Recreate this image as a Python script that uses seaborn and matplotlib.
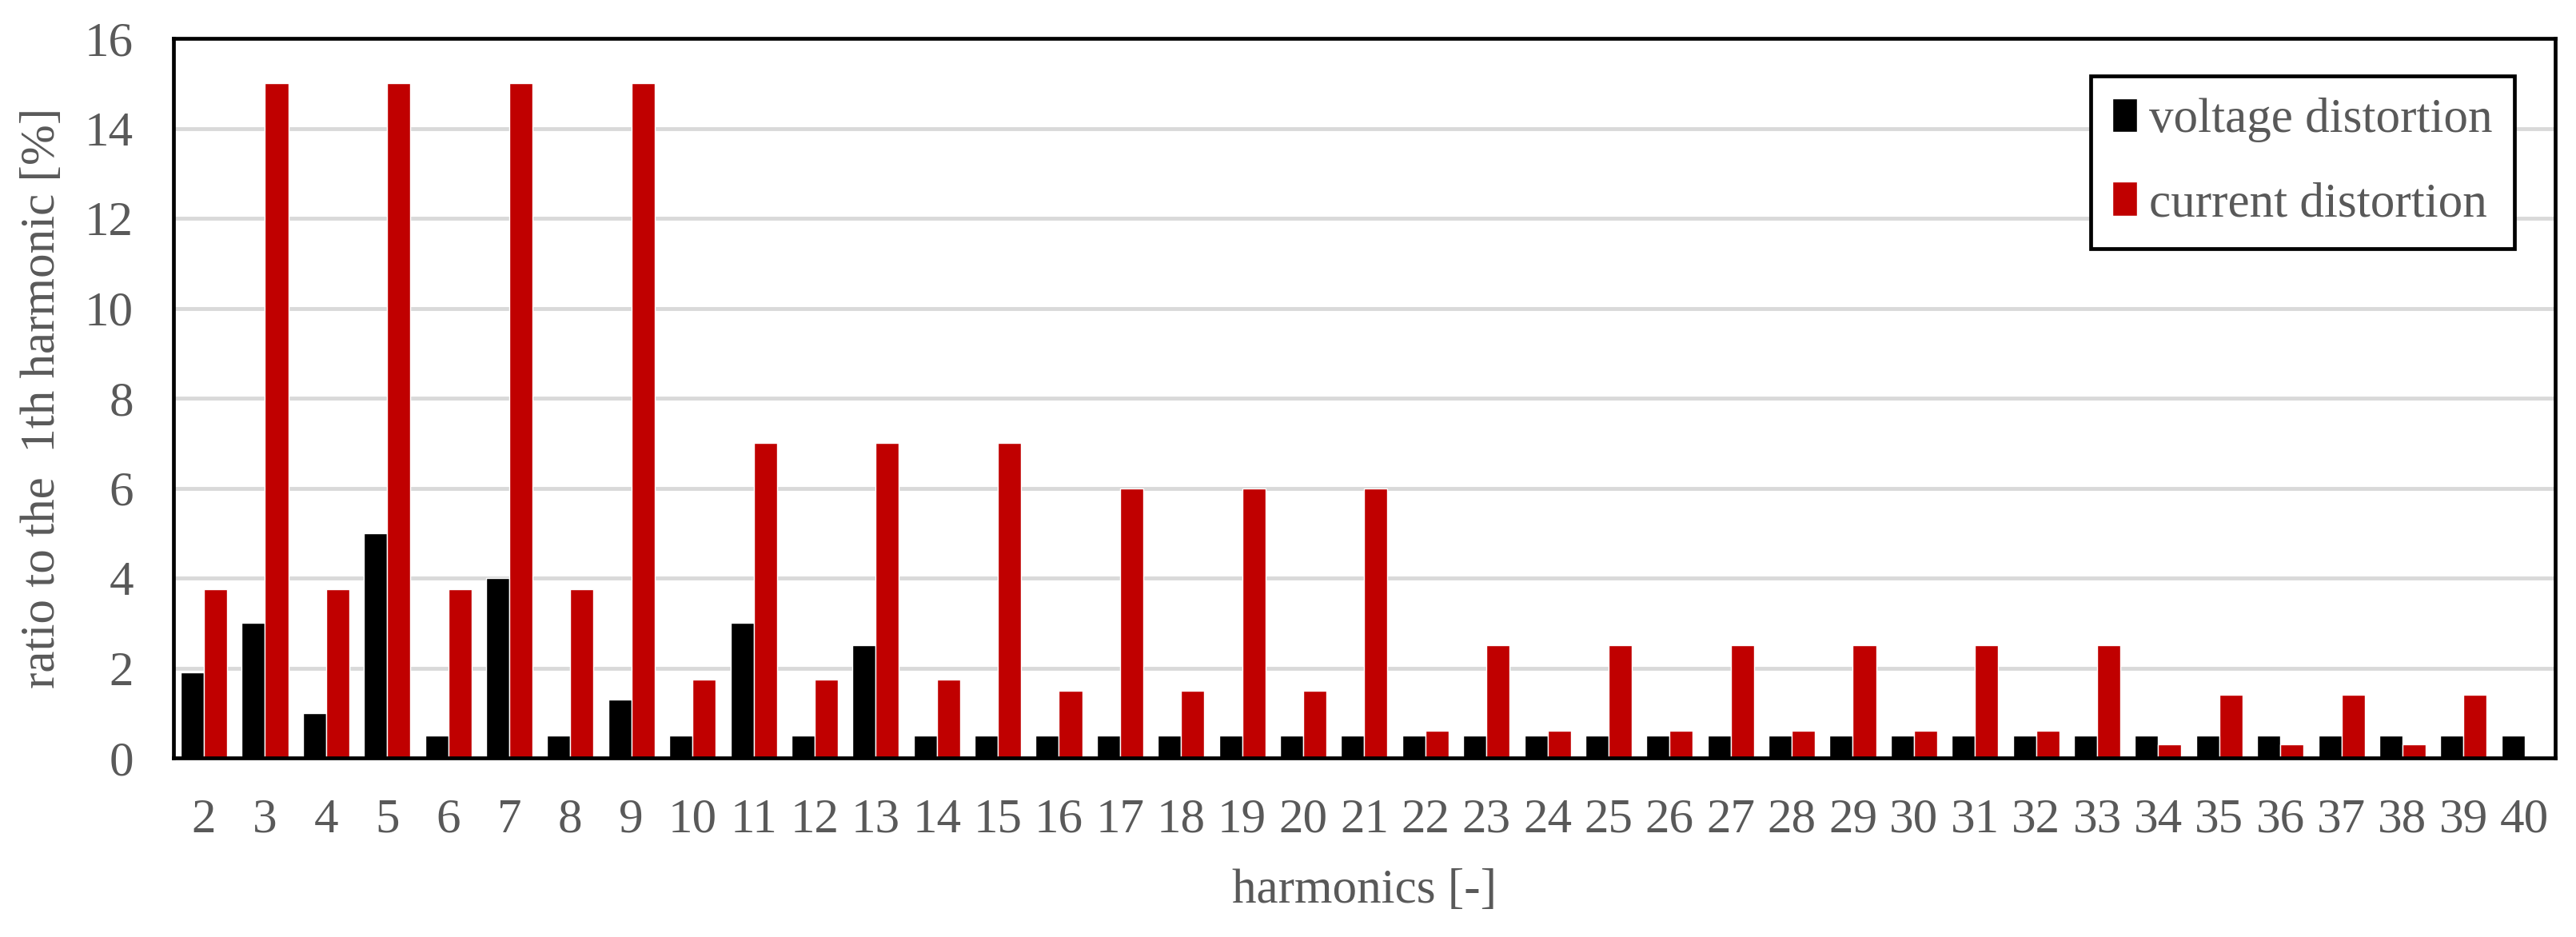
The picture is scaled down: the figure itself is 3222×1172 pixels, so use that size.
import matplotlib
matplotlib.use('Agg')
import matplotlib.pyplot as plt
import pandas as pd
import seaborn as sns

# harmonic orders 2..40
harmonics = list(range(2, 41))

# ratio to the fundamental [%]
voltage = [1.9, 3.0, 1.0, 5.0, 0.5, 4.0, 0.5, 1.3, 0.5, 3.0,
           0.5, 2.5, 0.5, 0.5, 0.5, 0.5, 0.5, 0.5, 0.5, 0.5,
           0.5, 0.5, 0.5, 0.5, 0.5, 0.5, 0.5, 0.5, 0.5, 0.5,
           0.5, 0.5, 0.5, 0.5, 0.5, 0.5, 0.5, 0.5, 0.5]
current = [3.75, 15.0, 3.75, 15.0, 3.75, 15.0, 3.75, 15.0, 1.75, 7.0,
           1.75, 7.0, 1.75, 7.0, 1.5, 6.0, 1.5, 6.0, 1.5, 6.0,
           0.6, 2.5, 0.6, 2.5, 0.6, 2.5, 0.6, 2.5, 0.6, 2.5,
           0.6, 2.5, 0.3, 1.4, 0.3, 1.4, 0.3, 1.4, 0.0]

series_names = ['voltage distortion', 'current distortion']
colors = ['#000000', '#C00000']
grey = '#595959'

df = pd.DataFrame({
    'harmonic': [str(h) for h in harmonics] * 2,
    'value': voltage + current,
    'series': [series_names[0]] * len(harmonics) + [series_names[1]] * len(harmonics),
})

sns.set_style('white')
plt.rcParams['font.family'] = ['Liberation Serif', 'DejaVu Serif']

fig = plt.figure(figsize=(32.23, 11.72), dpi=100)
ax = fig.add_axes([0.0673, 0.1911, 0.9243, 0.7679])

# gridlines behind the bars
ax.set_axisbelow(True)
ax.yaxis.grid(True, color='#d9d9d9', linewidth=3.5)

sns.barplot(data=df, x='harmonic', y='value', hue='series', palette=colors,
            saturation=1, width=0.76, ax=ax, legend=True)

ax.set_ylim(0, 16)
ax.set_yticks(range(0, 17, 2))
ax.tick_params(axis='both', length=0, labelsize=44, labelcolor=grey)
ax.tick_params(axis='y', pad=36)
ax.tick_params(axis='x', pad=36)

for s in ax.spines.values():
    s.set_color('black')
    s.set_linewidth(3.4)

ax.set_xlabel('harmonics [-]', fontsize=44, color=grey, labelpad=24)
ax.set_ylabel('ratio to the  1th harmonic [%]', fontsize=44, color=grey, labelpad=18)

handles, labels = ax.get_legend_handles_labels()
leg = ax.legend(handles, labels, loc='upper right', bbox_to_anchor=(0.983, 0.948),
                borderaxespad=0, fontsize=44, frameon=True, fancybox=False,
                handlelength=0.5, handleheight=0.7, handletextpad=0.25,
                labelspacing=0.8, borderpad=0.45, labelcolor=grey)
leg.get_frame().set_edgecolor('black')
leg.get_frame().set_linewidth(3.4)
leg.get_frame().set_alpha(1)

fig.savefig('out.png', dpi=100)
